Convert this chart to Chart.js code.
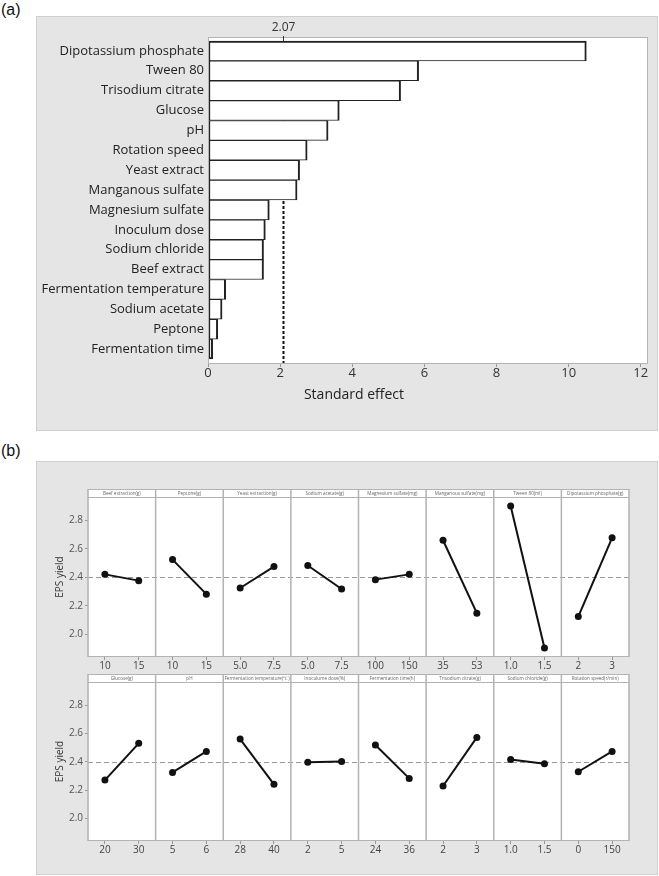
<!DOCTYPE html>
<html>
<head>
<meta charset="utf-8">
<script src="https://cdn.jsdelivr.net/npm/chart.js@4"></script>
<style>
  body { margin: 0; background: #fff; width: 659px; height: 876px; position: relative; overflow: hidden; font-family: "Liberation Sans", Arial, sans-serif; }
  .tag { position: absolute; left: 1px; font-size: 16px; color: #111; }
  .panel { position: absolute; left: 36px; width: 620px; background: #e5e5e5; border: 1px solid #cfcfcf; }
  canvas { position: absolute; }
</style>
</head>
<body>
<div class="tag" style="top:1px">(a)</div>
<div class="panel" style="top:16px;height:413px"></div>
<canvas id="pareto" width="621" height="414" style="left:36px;top:16px"></canvas>
<div class="tag" style="top:442px">(b)</div>
<div class="panel" style="top:461px;height:412px"></div>
<canvas id="row1" width="621" height="211" style="left:36px;top:461px"></canvas>
<canvas id="row2" width="621" height="202" style="left:36px;top:672px"></canvas>
<script>
// (a) Pareto of standardized effects
const factors = ["Dipotassium phosphate", "Tween 80", "Trisodium citrate", "Glucose", "pH",
  "Rotation speed", "Yeast extract", "Manganous sulfate", "Magnesium sulfate", "Inoculum dose",
  "Sodium chloride", "Beef extract", "Fermentation temperature", "Sodium acetate", "Peptone",
  "Fermentation time"];
const effects = [10.49, 5.84, 5.34, 3.64, 3.33, 2.75, 2.54, 2.47, 1.70, 1.59, 1.54, 1.54, 0.49, 0.39, 0.27, 0.13];
const critical = 2.07;
const effectTicks = [0, 2, 4, 6, 8, 10, 12];

// (b) main effects for EPS yield
const row1Names = ["Beef extraction(g)", "Peptone(g)", "Yeast extraction(g)", "Sodium acetate(g)",
  "Magnesium sulfate(mg)", "Manganous sulfate(mg)", "Tween 80(ml)", "Dipotassium phosphate(g)"];
const row1Levels = [["10", "15"], ["10", "15"], ["5.0", "7.5"], ["5.0", "7.5"], ["100", "150"], ["35", "53"], ["1.0", "1.5"], ["2", "3"]];
const row1Low = [2.421, 2.525, 2.325, 2.483, 2.384, 2.661, 2.902, 2.124];
const row1High = [2.377, 2.282, 2.476, 2.318, 2.421, 2.148, 1.903, 2.678];

const row2Names = ["Glucose(g)", "pH", "Fermentation temperature(\u2103)", "Inoculume dose(%)",
  "Fermentation time(h)", "Trisodium citrate(g)", "Sodium chloride(g)", "Rotation speed(r/min)"];
const row2Levels = [["20", "30"], ["5", "6"], ["28", "40"], ["2", "5"], ["24", "36"], ["2", "3"], ["1.0", "1.5"], ["0", "150"]];
const row2Low = [2.271, 2.325, 2.561, 2.397, 2.519, 2.229, 2.416, 2.330];
const row2High = [2.531, 2.474, 2.241, 2.402, 2.283, 2.573, 2.386, 2.474];

const grandMean = 2.40;
const yieldTicks = [2.0, 2.2, 2.4, 2.6, 2.8];

const FONT = "Open Sans";

// PARETO CHART
const paretoFrame = {
  id: 'paretoFrame',
  beforeDraw(chart) {
    const { ctx, chartArea: a } = chart;
    ctx.save();
    ctx.fillStyle = '#fff';
    ctx.fillRect(a.left, a.top, a.width, a.height);
    ctx.restore();
  },
  beforeDatasetsDraw(chart) {
    const { ctx, chartArea: a, scales: { x } } = chart;
    const px = Math.round(x.getPixelForValue(critical)) + 0.5;
    ctx.save();
    ctx.strokeStyle = '#111';
    ctx.lineWidth = 2;
    ctx.setLineDash([3, 2]);
    ctx.beginPath();
    ctx.moveTo(px, a.top + 4);
    ctx.lineTo(px, a.bottom);
    ctx.stroke();
    ctx.restore();
  },
  afterDraw(chart) {
    const { ctx, chartArea: a, scales: { x } } = chart;
    const px = Math.round(x.getPixelForValue(critical)) + 0.5;
    ctx.save();
    ctx.strokeStyle = '#b5b5b5';
    ctx.lineWidth = 1;
    ctx.strokeRect(a.left + 0.5, a.top + 0.5, a.width - 1, a.height - 1);
    ctx.strokeStyle = '#333';
    ctx.beginPath();
    ctx.moveTo(px, a.top - 1);
    ctx.lineTo(px, a.top + 4);
    ctx.stroke();
    ctx.fillStyle = '#333';
    ctx.font = '12px "' + FONT + '"';
    ctx.textAlign = 'center';
    ctx.textBaseline = 'middle';
    ctx.fillText(critical.toFixed(2), px, a.top - 9);
    // axis title, centred on the grey panel like the original
    ctx.fillStyle = '#222';
    ctx.font = '14px "' + FONT + '"';
    ctx.fillText('Standard effect', 318, x.bottom + 11);
    ctx.restore();
  }
};

new Chart(document.querySelector('#pareto'), {
  type: 'bar',
  data: {
    datasets: [{
      data: effects.map((v, i) => ({ x: v, y: i })),
      backgroundColor: '#fff',
      borderColor: '#222',
      borderSkipped: false,
      borderWidth: c => ({
        left: 2, right: 2,
        top: c.dataIndex === 0 ? 2 : 1,
        bottom: c.dataIndex === effects.length - 1 ? 2 : 1
      }),
      barPercentage: 1,
      categoryPercentage: 1
    }]
  },
  options: {
    indexAxis: 'y',
    responsive: false,
    animation: false,
    layout: { padding: { left: 0, top: 21, right: 9, bottom: 46 } },
    scales: {
      x: {
        type: 'linear', min: 0, max: 12.2,
        afterBuildTicks: s => { s.ticks = effectTicks.map(v => ({ value: v })); },
        grid: { drawOnChartArea: false, tickLength: 3, color: '#9a9a9a' },
        border: { display: false },
        ticks: { font: { family: FONT, size: 13, lineHeight: 1 }, color: '#333', padding: 0, maxRotation: 0 },
        afterFit: s => { s.height = 20; }
      },
      y: {
        type: 'linear', min: -0.7, max: 15.75, reverse: true, offset: false,
        afterBuildTicks: s => { s.ticks = factors.map((_, i) => ({ value: i })); },
        grid: { drawOnChartArea: false, drawTicks: false, offset: false },
        border: { display: false },
        ticks: { callback: v => factors[v], autoSkip: false, font: { family: FONT, size: 13 }, color: '#222', padding: 4 },
        afterFit: s => { s.width = 172; }
      }
    },
    plugins: {
      legend: { display: false },
      tooltip: { enabled: false }
    }
  },
  plugins: [paretoFrame]
});

// MAIN EFFECTS ROWS
function effectsRow(id, names, levels, low, high, padding) {
  const scales = {
    y: {
      min: 1.84, max: 2.965,
      afterBuildTicks: s => { s.ticks = yieldTicks.map(v => ({ value: v })); },
      ticks: { callback: v => v.toFixed(1), font: { family: FONT, size: 10 }, color: '#555', padding: 2 },
      grid: { drawOnChartArea: false, tickLength: 3, color: '#999' },
      border: { display: false },
      title: { display: true, text: 'EPS yield', font: { family: FONT, size: 10 }, color: '#333', padding: { top: 4, bottom: 0 } },
      afterFit: s => { s.width = 38; }
    }
  };
  const datasets = [];
  names.forEach((n, i) => {
    scales['x' + i] = {
      type: 'linear', position: 'bottom', stack: 'levels', stackWeight: 1,
      min: -0.5, max: 1.5,
      afterBuildTicks: s => { s.ticks = [{ value: 0 }, { value: 1 }]; },
      ticks: { callback: v => levels[i][v], autoSkip: false, maxRotation: 0, font: { family: FONT, size: 10, lineHeight: 1 }, color: '#444', padding: 1 },
      grid: { drawOnChartArea: false, tickLength: 3, color: '#999' },
      border: { display: false },
      afterFit: s => { s.height = 15; }
    };
    datasets.push({
      xAxisID: 'x' + i,
      yAxisID: 'y',
      data: [{ x: 0, y: low[i] }, { x: 1, y: high[i] }],
      borderColor: '#111',
      backgroundColor: '#111',
      borderWidth: 2,
      pointRadius: 3.5,
      pointBorderWidth: 0,
      clip: false
    });
  });

  const frame = {
    id: 'frame',
    beforeDraw(chart) {
      const { ctx, chartArea: a } = chart;
      ctx.save();
      ctx.fillStyle = '#fff';
      ctx.fillRect(a.left, a.top - 7, a.width, a.height + 7);
      ctx.restore();
    },
    beforeDatasetsDraw(chart) {
      const { ctx, chartArea: a, scales: sc } = chart;
      const my = Math.round(sc.y.getPixelForValue(grandMean)) + 0.5;
      ctx.save();
      ctx.strokeStyle = '#9a9a9a';
      ctx.lineWidth = 1;
      ctx.setLineDash([5, 3]);
      ctx.beginPath();
      ctx.moveTo(a.left, my);
      ctx.lineTo(a.right, my);
      ctx.stroke();
      ctx.setLineDash([]);

      // strips + separators
      ctx.strokeStyle = '#b3b3b3';
      ctx.lineWidth = 1;
      ctx.beginPath();
      ctx.moveTo(a.left, a.top - 7.5);
      ctx.lineTo(a.right, a.top - 7.5);
      ctx.moveTo(a.left, a.top + 0.5);
      ctx.lineTo(a.right, a.top + 0.5);
      ctx.moveTo(a.left, a.bottom - 0.5);
      ctx.lineTo(a.right, a.bottom - 0.5);
      ctx.stroke();
      ctx.lineWidth = 1.5;
      ctx.beginPath();
      names.forEach((n, i) => {
        const s = sc['x' + i];
        ctx.moveTo(s.left, a.top - 8);
        ctx.lineTo(s.left, a.bottom);
      });
      ctx.moveTo(a.right, a.top - 8);
      ctx.lineTo(a.right, a.bottom);
      ctx.stroke();

      ctx.fillStyle = '#666';
      ctx.font = '4.6px "' + FONT + '"';
      ctx.textAlign = 'center';
      ctx.textBaseline = 'middle';
      names.forEach((n, i) => {
        const s = sc['x' + i];
        ctx.fillText(n, s.left + s.width / 2, a.top - 3.5, s.width - 2);
      });
      ctx.restore();
    }
  };

  new Chart(document.querySelector(id), {
    type: 'line',
    data: { datasets },
    options: {
      responsive: false,
      animation: false,
      layout: { padding },
      scales,
      plugins: { legend: { display: false }, tooltip: { enabled: false } }
    },
    plugins: [frame]
  });
}

effectsRow('#row1', row1Names, row1Levels, row1Low, row1High, { top: 36, left: 14, right: 28, bottom: 0 });
effectsRow('#row2', row2Names, row2Levels, row2Low, row2High, { top: 10, left: 14, right: 28, bottom: 18 });
</script>
</body>
</html>
